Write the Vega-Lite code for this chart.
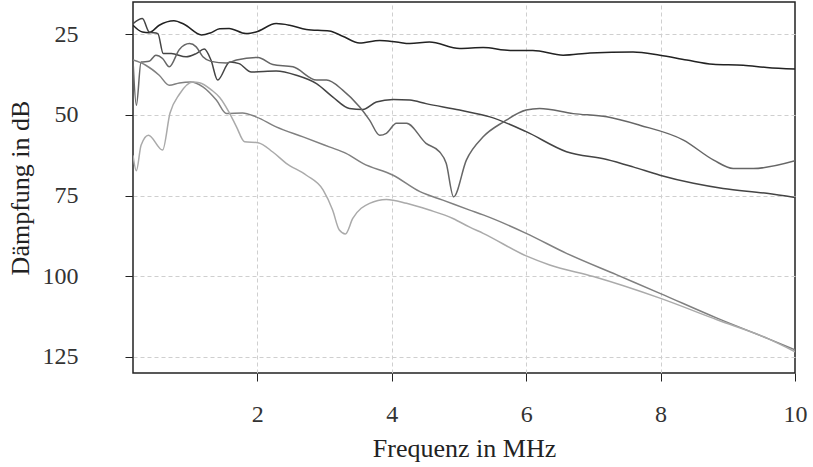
{
  "$schema": "https://vega.github.io/schema/vega-lite/v6.json",
  "width": 662,
  "height": 371,
  "autosize": {"type": "none"},
  "padding": {"left": 133, "top": 2, "right": 18, "bottom": 94},
  "background": "white",
  "config": {
    "view": {"stroke": "#222", "strokeWidth": 1.5},
    "font": "Liberation Serif",
    "axis": {
      "labelFont": "Liberation Serif",
      "titleFont": "Liberation Serif",
      "labelFontSize": 24,
      "titleFontSize": 26,
      "titleFontWeight": "normal",
      "labelColor": "#333",
      "titleColor": "#222",
      "domain": false,
      "tickColor": "#222",
      "tickSize": 8,
      "tickWidth": 1,
      "gridDash": [4, 3],
      "gridWidth": 1,
      "labelFlush": false,
      "labelOverlap": false
    }
  },
  "data": {
    "values": [
      {"s": "A", "f": 0.15, "d": 22.2}, {"s": "A", "f": 0.29, "d": 24.3}, {"s": "A", "f": 0.39, "d": 24.5}, {"s": "A", "f": 0.54, "d": 22.2}, {"s": "A", "f": 0.76, "d": 20.8}, {"s": "A", "f": 0.91, "d": 21.9}, {"s": "A", "f": 1.17, "d": 25.2}, {"s": "A", "f": 1.3, "d": 24.6}, {"s": "A", "f": 1.44, "d": 23.3}, {"s": "A", "f": 1.58, "d": 23.2}, {"s": "A", "f": 1.83, "d": 24.8}, {"s": "A", "f": 1.98, "d": 24.3}, {"s": "A", "f": 2.28, "d": 21.7}, {"s": "A", "f": 2.48, "d": 22.2}, {"s": "A", "f": 2.73, "d": 23.5}, {"s": "A", "f": 3.07, "d": 24.0}, {"s": "A", "f": 3.27, "d": 25.6}, {"s": "A", "f": 3.52, "d": 27.7}, {"s": "A", "f": 3.82, "d": 26.9}, {"s": "A", "f": 4.07, "d": 27.4}, {"s": "A", "f": 4.27, "d": 27.9}, {"s": "A", "f": 4.56, "d": 27.4}, {"s": "A", "f": 5.01, "d": 29.4}, {"s": "A", "f": 5.36, "d": 29.1}, {"s": "A", "f": 5.76, "d": 30.0}, {"s": "A", "f": 6.1, "d": 30.0}, {"s": "A", "f": 6.55, "d": 31.5}, {"s": "A", "f": 6.95, "d": 30.8}, {"s": "A", "f": 7.59, "d": 30.5}, {"s": "A", "f": 7.99, "d": 31.5}, {"s": "A", "f": 8.39, "d": 33.0}, {"s": "A", "f": 8.78, "d": 34.3}, {"s": "A", "f": 9.23, "d": 34.6}, {"s": "A", "f": 9.58, "d": 35.3}, {"s": "A", "f": 10.0, "d": 35.8},

      {"s": "B", "f": 0.15, "d": 21.7}, {"s": "B", "f": 0.29, "d": 20.1}, {"s": "B", "f": 0.39, "d": 24.3}, {"s": "B", "f": 0.52, "d": 24.8}, {"s": "B", "f": 0.6, "d": 31.0}, {"s": "B", "f": 0.72, "d": 31.0}, {"s": "B", "f": 0.94, "d": 32.0}, {"s": "B", "f": 1.09, "d": 31.0}, {"s": "B", "f": 1.21, "d": 29.6}, {"s": "B", "f": 1.31, "d": 33.0}, {"s": "B", "f": 1.41, "d": 39.2}, {"s": "B", "f": 1.59, "d": 33.6}, {"s": "B", "f": 1.73, "d": 34.1}, {"s": "B", "f": 1.91, "d": 36.7}, {"s": "B", "f": 2.28, "d": 36.4}, {"s": "B", "f": 2.58, "d": 37.7}, {"s": "B", "f": 2.88, "d": 40.3}, {"s": "B", "f": 3.12, "d": 44.4}, {"s": "B", "f": 3.37, "d": 48.0}, {"s": "B", "f": 3.57, "d": 48.3}, {"s": "B", "f": 3.77, "d": 46.0}, {"s": "B", "f": 4.02, "d": 45.2}, {"s": "B", "f": 4.27, "d": 45.4}, {"s": "B", "f": 4.51, "d": 46.5}, {"s": "B", "f": 5.01, "d": 48.5}, {"s": "B", "f": 5.46, "d": 50.6}, {"s": "B", "f": 6.0, "d": 55.2}, {"s": "B", "f": 6.6, "d": 61.4}, {"s": "B", "f": 7.2, "d": 63.8}, {"s": "B", "f": 7.59, "d": 66.1}, {"s": "B", "f": 7.99, "d": 68.7}, {"s": "B", "f": 8.49, "d": 71.2}, {"s": "B", "f": 8.93, "d": 72.8}, {"s": "B", "f": 9.58, "d": 74.3}, {"s": "B", "f": 10.0, "d": 75.6},

      {"s": "C", "f": 0.15, "d": 33.0}, {"s": "C", "f": 0.2, "d": 47.0}, {"s": "C", "f": 0.27, "d": 33.6}, {"s": "C", "f": 0.39, "d": 33.4}, {"s": "C", "f": 0.49, "d": 31.5}, {"s": "C", "f": 0.59, "d": 32.5}, {"s": "C", "f": 0.69, "d": 35.1}, {"s": "C", "f": 0.84, "d": 29.7}, {"s": "C", "f": 0.99, "d": 27.9}, {"s": "C", "f": 1.09, "d": 28.9}, {"s": "C", "f": 1.19, "d": 32.0}, {"s": "C", "f": 1.31, "d": 33.4}, {"s": "C", "f": 1.54, "d": 33.9}, {"s": "C", "f": 1.69, "d": 33.0}, {"s": "C", "f": 2.01, "d": 32.2}, {"s": "C", "f": 2.23, "d": 34.4}, {"s": "C", "f": 2.53, "d": 35.1}, {"s": "C", "f": 2.88, "d": 39.2}, {"s": "C", "f": 3.03, "d": 39.2}, {"s": "C", "f": 3.27, "d": 42.3}, {"s": "C", "f": 3.52, "d": 47.5}, {"s": "C", "f": 3.67, "d": 51.6}, {"s": "C", "f": 3.82, "d": 56.3}, {"s": "C", "f": 3.92, "d": 55.7}, {"s": "C", "f": 4.07, "d": 52.6}, {"s": "C", "f": 4.22, "d": 52.6}, {"s": "C", "f": 4.51, "d": 58.8}, {"s": "C", "f": 4.71, "d": 61.4}, {"s": "C", "f": 4.81, "d": 65.0}, {"s": "C", "f": 4.92, "d": 75.4}, {"s": "C", "f": 5.11, "d": 64.0}, {"s": "C", "f": 5.36, "d": 56.8}, {"s": "C", "f": 5.66, "d": 52.2}, {"s": "C", "f": 6.0, "d": 48.5}, {"s": "C", "f": 6.2, "d": 48.0}, {"s": "C", "f": 6.7, "d": 49.6}, {"s": "C", "f": 7.2, "d": 50.6}, {"s": "C", "f": 7.69, "d": 53.2}, {"s": "C", "f": 8.34, "d": 57.8}, {"s": "C", "f": 8.79, "d": 64.0}, {"s": "C", "f": 9.08, "d": 66.6}, {"s": "C", "f": 9.38, "d": 66.6}, {"s": "C", "f": 10.0, "d": 64.2},

      {"s": "D", "f": 0.15, "d": 33.0}, {"s": "D", "f": 0.34, "d": 34.6}, {"s": "D", "f": 0.54, "d": 37.7}, {"s": "D", "f": 0.69, "d": 40.8}, {"s": "D", "f": 0.84, "d": 40.1}, {"s": "D", "f": 1.01, "d": 39.8}, {"s": "D", "f": 1.19, "d": 41.3}, {"s": "D", "f": 1.39, "d": 45.4}, {"s": "D", "f": 1.54, "d": 49.6}, {"s": "D", "f": 1.78, "d": 49.4}, {"s": "D", "f": 1.98, "d": 50.6}, {"s": "D", "f": 2.28, "d": 53.7}, {"s": "D", "f": 2.68, "d": 56.8}, {"s": "D", "f": 3.07, "d": 59.9}, {"s": "D", "f": 3.32, "d": 61.9}, {"s": "D", "f": 3.57, "d": 65.0}, {"s": "D", "f": 4.02, "d": 68.7}, {"s": "D", "f": 4.42, "d": 73.8}, {"s": "D", "f": 4.76, "d": 76.4}, {"s": "D", "f": 5.16, "d": 79.5}, {"s": "D", "f": 5.36, "d": 81.0}, {"s": "D", "f": 6.0, "d": 86.7}, {"s": "D", "f": 6.6, "d": 92.9}, {"s": "D", "f": 7.35, "d": 99.6}, {"s": "D", "f": 7.99, "d": 105.3}, {"s": "D", "f": 8.84, "d": 113.0}, {"s": "D", "f": 9.58, "d": 119.2}, {"s": "D", "f": 10.0, "d": 122.8},

      {"s": "E", "f": 0.15, "d": 62.5}, {"s": "E", "f": 0.2, "d": 67.3}, {"s": "E", "f": 0.27, "d": 59.4}, {"s": "E", "f": 0.38, "d": 56.3}, {"s": "E", "f": 0.59, "d": 60.9}, {"s": "E", "f": 0.7, "d": 49.5}, {"s": "E", "f": 0.84, "d": 43.6}, {"s": "E", "f": 1.04, "d": 39.8}, {"s": "E", "f": 1.14, "d": 40.0}, {"s": "E", "f": 1.32, "d": 42.3}, {"s": "E", "f": 1.44, "d": 44.6}, {"s": "E", "f": 1.58, "d": 49.2}, {"s": "E", "f": 1.69, "d": 53.7}, {"s": "E", "f": 1.81, "d": 58.3}, {"s": "E", "f": 2.01, "d": 58.6}, {"s": "E", "f": 2.23, "d": 61.5}, {"s": "E", "f": 2.43, "d": 65.0}, {"s": "E", "f": 2.73, "d": 68.7}, {"s": "E", "f": 2.98, "d": 73.3}, {"s": "E", "f": 3.12, "d": 79.5}, {"s": "E", "f": 3.22, "d": 85.7}, {"s": "E", "f": 3.31, "d": 86.9}, {"s": "E", "f": 3.42, "d": 82.1}, {"s": "E", "f": 3.67, "d": 77.4}, {"s": "E", "f": 3.92, "d": 76.2}, {"s": "E", "f": 4.22, "d": 77.4}, {"s": "E", "f": 4.56, "d": 79.5}, {"s": "E", "f": 4.91, "d": 82.1}, {"s": "E", "f": 5.16, "d": 84.8}, {"s": "E", "f": 5.36, "d": 86.7}, {"s": "E", "f": 6.0, "d": 93.7}, {"s": "E", "f": 6.35, "d": 96.5}, {"s": "E", "f": 7.0, "d": 100.1}, {"s": "E", "f": 7.99, "d": 106.8}, {"s": "E", "f": 8.84, "d": 113.5}, {"s": "E", "f": 9.58, "d": 119.2}, {"s": "E", "f": 10.0, "d": 123.4}
    ]
  },
  "mark": {"type": "line", "interpolate": "monotone", "strokeWidth": 1.5, "clip": true},
  "encoding": {
    "x": {
      "field": "f", "type": "quantitative",
      "scale": {"domain": [0.15, 10], "nice": false, "zero": false},
      "axis": {
        "values": [2, 4, 6, 8, 10], "title": "Frequenz in MHz", "labelPadding": 21, "titlePadding": 9, "format": "d",
        "gridColor": {"condition": {"test": "datum.value === 10", "value": "transparent"}, "value": "#cfcfcf"}
      }
    },
    "y": {
      "field": "d", "type": "quantitative",
      "scale": {"domain": [15, 130], "nice": false, "zero": false, "reverse": true},
      "axis": {"values": [25, 50, 75, 100, 125], "title": "Dämpfung in dB", "labelPadding": 47, "titlePadding": 9, "format": "d", "gridColor": "#cfcfcf"}
    },
    "color": {
      "field": "s", "type": "nominal", "legend": null,
      "scale": {"domain": ["A", "B", "C", "D", "E"], "range": ["#222222", "#444444", "#666666", "#808080", "#aaaaaa"]}
    },
    "order": {"field": "f", "type": "quantitative"}
  }
}
